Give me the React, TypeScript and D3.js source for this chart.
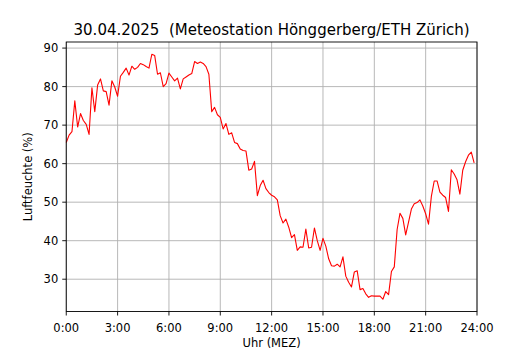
import React from "react";
import * as d3 from "d3";

// Relative humidity, 10-minute values from 0:00 to 23:50
const humidity: number[] = [
  65.5, 67.4, 68.3, 76.3, 69.5, 73, 71.2, 70.2, 67.6, 79.7, 73.5, 80.4,
  82, 78.9, 78.7, 75.2, 81.5, 79.9, 77.5, 82.7, 83.7, 84.8, 83, 85.3,
  84.5, 85, 86, 85.7, 85.2, 84.8, 88.4, 88.1, 83.2, 83.6, 80, 80.8,
  83.5, 82.5, 81.5, 82.2, 79.4, 82, 82.5, 83, 83.4, 86.5, 86, 86.4,
  86, 85.2, 83.2, 73.5, 74.6, 72.7, 72, 69, 70.4, 67.6, 68, 65.5,
  65.2, 63.8, 63.4, 63.3, 58.3, 58.6, 60.6, 51.7, 54.3, 55.7, 53.5, 52.5,
  51.8, 51.4, 50.6, 46.5, 44.6, 45.6, 43.5, 40.8, 41.6, 37.5, 38.4, 38.3,
  43, 38.1, 38.3, 43.3, 40, 37.5, 40.6, 38.6, 35.3, 33.5, 33.4, 33.9,
  33.2, 35.8, 30.8, 29.2, 28, 31.9, 32.2, 27.3, 27.6, 26.2, 25.3, 25.7,
  25.6, 25.6, 25.6, 24.8, 26.8, 26, 32, 33.2, 42.9, 47.1, 45.8, 41.5,
  44.8, 48.2, 49.6, 49.9, 50.6, 49, 47, 44.3, 51.5, 55.5, 55.5, 52.6,
  51.8, 51.2, 47.6, 58.4, 57.3, 55.8, 52.1, 58.3, 60.5, 62.2, 63, 60.2,
];
const stepMinutes = 10;

const xTickHours: number[] = [0, 3, 6, 9, 12, 15, 18, 21, 24];
const xTickLabels: string[] = ["0:00", "3:00", "6:00", "9:00", "12:00", "15:00", "18:00", "21:00", "24:00"];
const yTicks: number[] = [30, 40, 50, 60, 70, 80, 90];

const titleText = "30.04.2025  (Meteostation Hönggerberg/ETH Zürich)";
const xLabelText = "Uhr (MEZ)";
const yLabelText = "Luftfeuchte (%)";

const W = 530;
const H = 350;
const left = 66.25;
const right = 477;
const top = 42;
const bottom = 311.5;
const font = "DejaVu Sans, sans-serif";

export default function App() {
  const points = humidity.map((v, i) => ({ h: (i * stepMinutes) / 60, v }));
  const vmin = d3.min(humidity) as number;
  const vmax = d3.max(humidity) as number;
  const pad = (vmax - vmin) * 0.05;

  const x = d3.scaleLinear().domain([0, 24]).range([left, right]);
  const y = d3.scaleLinear().domain([vmin - pad, vmax + pad]).range([bottom, top]);

  const line = d3
    .line<{ h: number; v: number }>()
    .x((d) => x(d.h))
    .y((d) => y(d.v));

  return (
    <svg
      width={W}
      height={H}
      style={{ position: "absolute", left: 0, top: 0, display: "block", background: "#fff" }}
      fontFamily={font}
    >
      <rect x={0} y={0} width={W} height={H} fill="#fff" />
      {/* grid */}
      <g stroke="#b0b0b0" strokeWidth={0.9}>
        {xTickHours.map((h) => (
          <line key={"gx" + h} x1={x(h)} x2={x(h)} y1={top} y2={bottom} />
        ))}
        {yTicks.map((t) => (
          <line key={"gy" + t} x1={left} x2={right} y1={y(t)} y2={y(t)} />
        ))}
      </g>
      {/* data line */}
      <path d={line(points) || ""} fill="none" stroke="#ff0000" strokeWidth={1.1} strokeLinejoin="round" />
      {/* spines */}
      <rect x={left} y={top} width={right - left} height={bottom - top} fill="none" stroke="#000" strokeWidth={0.9} />
      {/* x ticks */}
      <g>
        {xTickHours.map((h, i) => (
          <g key={"xt" + h}>
            <line x1={x(h)} x2={x(h)} y1={bottom} y2={bottom + 4} stroke="#000" strokeWidth={0.9} />
            <text x={x(h)} y={332} textAnchor="middle" fontSize={11.5} fill="#000">
              {xTickLabels[i]}
            </text>
          </g>
        ))}
      </g>
      {/* y ticks */}
      <g>
        {yTicks.map((t) => (
          <g key={"yt" + t}>
            <line x1={left - 4} x2={left} y1={y(t)} y2={y(t)} stroke="#000" strokeWidth={0.9} />
            <text x={left - 8} y={y(t)} dy="0.36em" textAnchor="end" fontSize={11.5} fill="#000">
              {t}
            </text>
          </g>
        ))}
      </g>
      {/* labels */}
      <text x={(left + right) / 2} y={347} textAnchor="middle" fontSize={11.5} fill="#000">
        {xLabelText}
      </text>
      <text
        transform={`translate(32,${(top + bottom) / 2}) rotate(-90)`}
        textAnchor="middle"
        fontSize={11.5}
        fill="#000"
      >
        {yLabelText}
      </text>
      <text
        x={(left + right) / 2}
        y={35}
        textAnchor="middle"
        fontSize={15}
        fill="#000"
        style={{ whiteSpace: "pre" }}
      >
        {titleText}
      </text>
    </svg>
  );
}
